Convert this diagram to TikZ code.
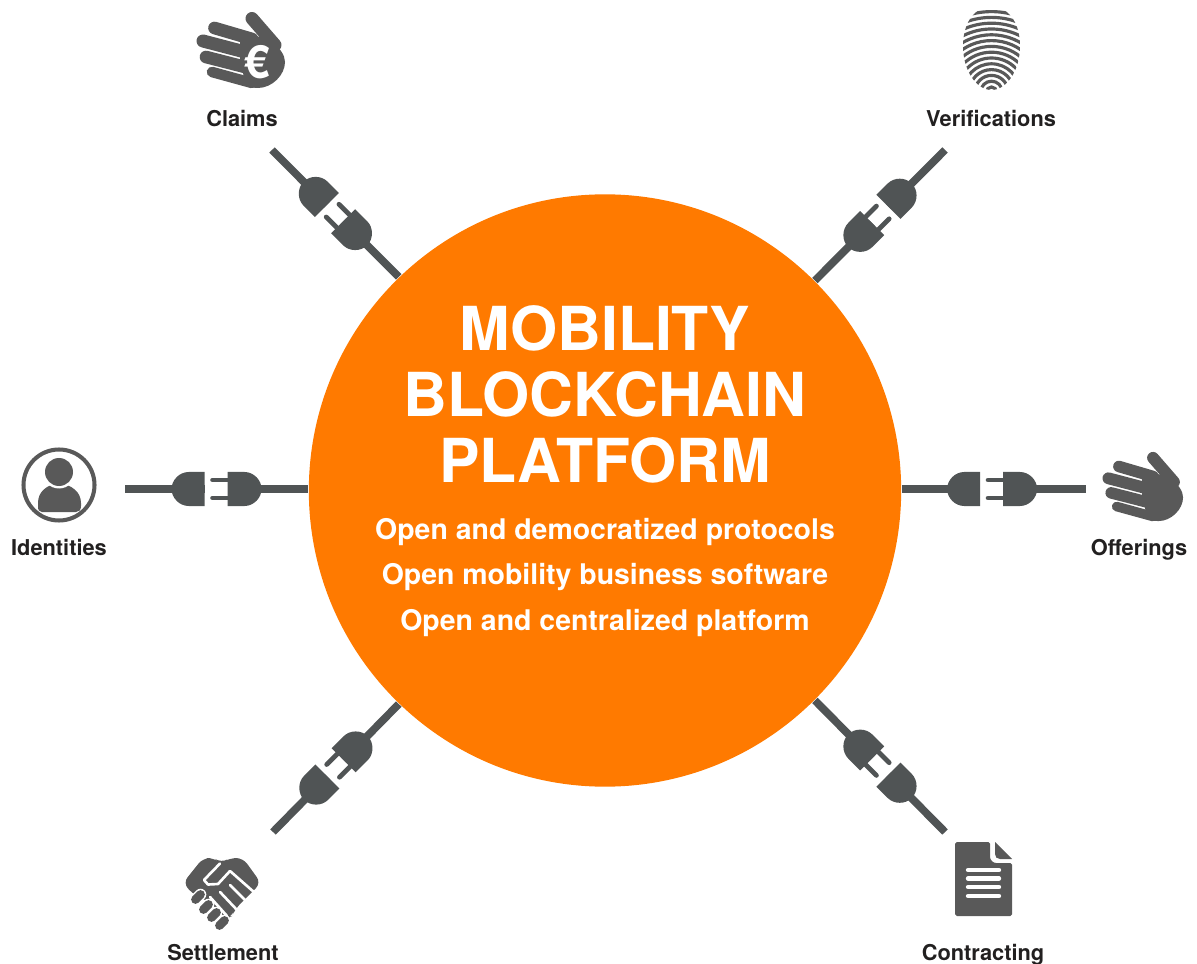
\documentclass[tikz,border=0pt]{standalone}
\usepackage{fontspec}
\setmainfont{TeX Gyre Heros}
\usepackage{tikz}
\definecolor{hubcolor}{RGB}{255,122,0}
\definecolor{plugcolor}{RGB}{80,84,85}
\definecolor{iconcolor}{RGB}{89,89,89}
\definecolor{labelcolor}{RGB}{34,32,32}
\tikzset{
   hubcircle/.style={circle,fill=hubcolor,inner sep=0pt,minimum size=5.92cm},
   labeltext/.style={inner sep=0pt,anchor=base,text=labelcolor,font=\fontsize{6.2}{7}\selectfont\bfseries},
   titletext/.style={inner sep=0pt,text=white,align=center,font=\fontsize{17.25}{18.8}\selectfont\bfseries},
   subtext/.style={inner sep=0pt,text=white,align=center,font=\fontsize{8.09}{13}\selectfont\bfseries},
   cable/.style={draw=plugcolor,line width=2.2pt},
   pics/plug/.style={code={
      \fill[white] (-12,-8) rectangle (11,8);
      \fill[plugcolor] (-12,-17) -- (-28,-17) .. controls (-37,-17) and (-45,-9) .. (-45,0)
         .. controls (-45,9) and (-37,17) .. (-28,17) -- (-12,17) -- cycle;
      \fill[plugcolor] (11,-17) -- (28,-17) .. controls (37,-17) and (45,-9) .. (45,0)
         .. controls (45,9) and (37,17) .. (28,17) -- (11,17) -- cycle;
      \draw[plugcolor,line width=1.35pt,line cap=round] (-4,-9) -- (12,-9) (-4,9) -- (12,9);
   }},
   pics/hand/.style={code={
      \begin{scope}[scale=#1,iconcolor,line cap=round]
      \fill (60,38) -- (73,35) -- (90,40) .. controls (100,48) and (105,55) .. (105,62)
         .. controls (105,75) and (92,88) .. (78,88) .. controls (75,88) and (70,87) .. (66,86) -- (60,60) -- cycle;
      \draw[line width=#1*3.7pt] (72,18.5) -- (95,45);
      \draw[line width=#1*3.6pt] (34.5,28) -- (72,39);
      \draw[line width=#1*3.7pt] (23,41) -- (65,52);
      \draw[line width=#1*3.6pt] (26,57) -- (65,67);
      \draw[line width=#1*3pt] (32,72) -- (72,83);
      \end{scope}
   }}
}
\begin{document}
\begin{tikzpicture}[x=0.01cm,y=-0.01cm]
\useasboundingbox (0,0) rectangle (1197,964);
\node[hubcircle] (hub) at (605,490.5) {};
\node[titletext] (title) at (605,394.5) {MOBILITY\\BLOCKCHAIN\\PLATFORM};
\node[subtext] (subtitle) at (605,577.5) {Open and democratized protocols\\Open mobility business software\\Open and centralized platform};

\foreach \X/\Y/\Z in {242/127/Claims,991/127/Verifications,59/555/Identities,1139/555/Offerings,223/960/Settlement,983/960/Contracting}{
	\node[labeltext] (\Z) at (\X,\Y) {\Z};
}

\coordinate (freeClaims) at (272,150);
\coordinate (freeVerifications) at (945,150);
\coordinate (freeIdentities) at (125,489);
\coordinate (freeOfferings) at (1086,489);
\coordinate (freeSettlement) at (273,832);
\coordinate (freeContracting) at (945,832);
\draw[cable] (freeClaims) -- (hub.134) pic[pos=.5,rotate=-45] {plug};
\draw[cable] (freeVerifications) -- (hub.45) pic[pos=.5,rotate=-135] {plug};
\draw[cable] (freeIdentities) -- (hub.west |- freeIdentities) pic[pos=.5] {plug};
\draw[cable] (hub.east |- freeOfferings) -- (freeOfferings) pic[pos=.49] {plug};
\draw[cable] (freeSettlement) -- (hub.226) pic[pos=.5,rotate=45] {plug};
\draw[cable] (freeContracting) -- (hub.-45) pic[pos=.5,rotate=135] {plug};

% hands
\pic at (180,0) {hand=1};
\pic at (1087.5,441) {hand=0.91};
\node[inner sep=0pt,text=white,font=\fontsize{13}{13}\selectfont\bfseries] (euro) at (257,62) {€};

% fingerprint
\begin{scope}
\clip (991.5,7) .. controls (1011,7) and (1020,26) .. (1020,46) .. controls (1020,70) and (1007,90) .. (991.5,90)
   .. controls (976,90) and (963,70) .. (963,46) .. controls (963,26) and (972,7) .. (991.5,7) -- cycle;
\foreach \X in {0,...,13}{
	\draw[iconcolor,line width=0.9pt] (991.5,92) circle ({5+5.8*\X});
}
\end{scope}

% person
\draw[iconcolor,line width=1.15pt] (59,485) circle (35.5);
\fill[iconcolor] (42,512) .. controls (39,512) and (38,510) .. (38,506) -- (38,503) .. controls (38,492) and (46,485) .. (59,483)
   .. controls (72,485) and (81,492) .. (81,503) -- (81,506) .. controls (81,510) and (79,512) .. (76,512) -- cycle;
\fill[white] (59,472) circle (16.5);
\fill[iconcolor] (59,472) circle (14);

% handshake
\fill[iconcolor,rounded corners=2pt] (183,883) -- (203,858) -- (214,858) -- (221,863) -- (230,858) -- (243,858) -- (261,883)
   -- (236,908) -- (232,916) -- (226,919) -- (210,902) -- (194,895) -- cycle;
\draw[white,line width=0.75pt,line join=round,line cap=round] (220,863.5) -- (204,880) -- (208,884.5) -- (218,884) -- (230,871) -- (255,893);
\draw[white,line width=0.75pt,line cap=round] (230,885) -- (247,902) (220,892) -- (237,910) (210,897) -- (227,916);
\foreach \X/\Y in {198/897,206/907,214/915,222/923}{
	\draw[white,line width=3.3pt,line cap=round] (\X-2.5,\Y+2.5) -- (\X+2.5,\Y-2.5);
	\draw[iconcolor,line width=2.5pt,line cap=round] (\X-2.5,\Y+2.5) -- (\X+2.5,\Y-2.5);
}

% document
\fill[iconcolor,rounded corners=0.5pt] (955,842) -- (990,842) -- (990,855) .. controls (990,860) and (993,863) .. (998,863)
   -- (1012,863) -- (1012,916) -- (955,916) -- cycle;
\fill[iconcolor] (995,842) -- (1012,859) -- (1000,859) .. controls (997,859) and (995,857) .. (995,854) -- cycle;
\foreach \Y in {870,878.5,887,896}{
	\draw[white,line width=1.25pt,line cap=round] (968,\Y) -- (999,\Y);
}
\end{tikzpicture}
\end{document}
